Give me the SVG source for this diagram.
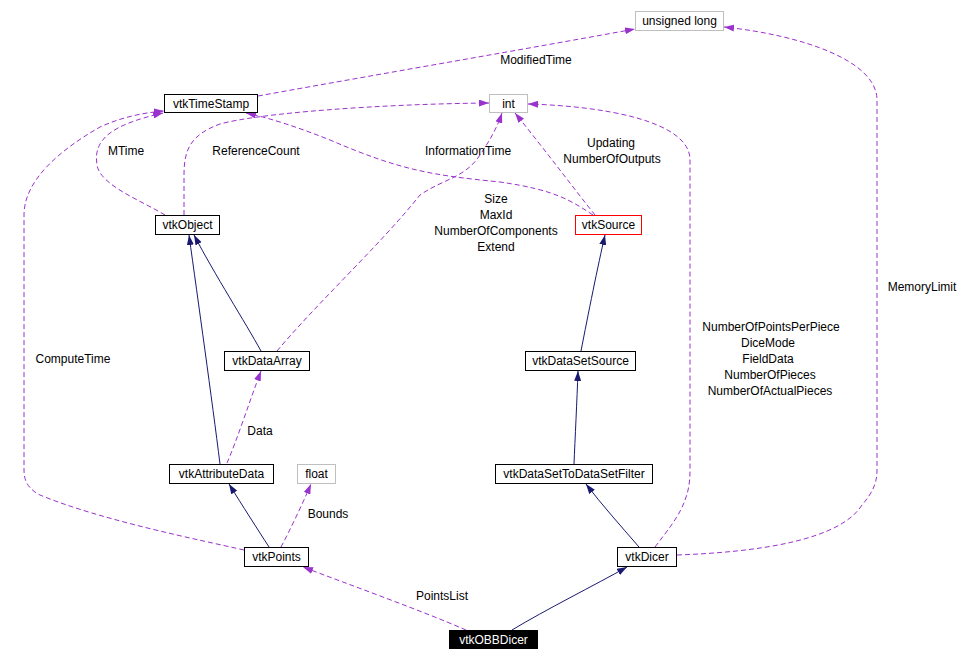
<svg xmlns="http://www.w3.org/2000/svg" width="969" height="661" viewBox="0 0 969 661">
<style>
text{font-family:"Liberation Sans",Arial,sans-serif;font-size:12px;fill:#000;text-anchor:middle}
.n{fill:#fff;stroke:#000;stroke-width:1}
.g{fill:#fff;stroke:#bfbfbf;stroke-width:1}
.r{fill:#fff;stroke:#ff0000;stroke-width:1}
.b{fill:#000;stroke:#000;stroke-width:1}
.w{fill:#fff}
.inh{fill:none;stroke:#191970;stroke-width:1;marker-end:url(#ah)}
.use{fill:none;stroke:#9a32cd;stroke-width:1;stroke-dasharray:5,3;marker-end:url(#au)}
</style>
<defs>
<marker id="ah" viewBox="0 0 10 7" refX="10" refY="3.5" markerWidth="10" markerHeight="7" markerUnits="userSpaceOnUse" orient="auto"><path d="M0,0 L10,3.5 L0,7 z" fill="#191970"/></marker>
<marker id="au" viewBox="0 0 10 7" refX="10" refY="3.5" markerWidth="10" markerHeight="7" markerUnits="userSpaceOnUse" orient="auto"><path d="M0,0 L10,3.5 L0,7 z" fill="#9a32cd"/></marker>
</defs>
<g id="edges">
<path class="inh" d="M261,351 C245,322 215,275 194,235"/>
<path class="inh" d="M220,464 C212,400 198,300 189,235"/>
<path class="inh" d="M269,547 C258,530 242,505 229,484"/>
<path class="inh" d="M581,351 C588,315 598,265 605,235"/>
<path class="inh" d="M574,464 C575,440 577,400 578,371"/>
<path class="inh" d="M639,547 C620,525 602,505 586,484"/>
<path class="inh" d="M512,630 C545,610 595,585 627,567"/>
<path class="use" d="M258,96 C380,74 520,50 635,29"/>
<path class="use" d="M677,555 C760,552 840,540 862,505 C875,490 877,480 877,470 L877,100 C877,60 800,35 724,27"/>
<path class="use" d="M655,547 C668,530 680,515 685,500 C689,490 690,480 690,470 L690,160 C690,120 600,106 528,104"/>
<path class="use" d="M595,215 C575,190 545,150 515,113"/>
<path class="use" d="M593,215 C570,200 555,190 500,182 C430,175 400,170 330,140 C300,128 270,118 246,113"/>
<path class="use" d="M277,351 C320,300 380,245 420,195 C445,178 465,178 480,155 C490,140 497,128 502,113"/>
<path class="use" d="M184,215 L184,175 C184,150 190,135 220,124 C260,113 380,104 489,103"/>
<path class="use" d="M165,215 C140,200 100,185 97,165 C93,140 110,125 163,113"/>
<path class="use" d="M244,550 C200,540 100,520 40,495 C26,488 24,478 24,470 L24,215 C24,180 60,150 100,127 C120,118 140,113 164,111"/>
<path class="use" d="M227,463 C237,440 250,400 261,371"/>
<path class="use" d="M281,547 C290,530 302,505 311,484"/>
<path class="use" d="M466,630 C420,610 350,585 303,567"/>
</g>
<g id="labels">
<text x="536" y="64">ModifiedTime</text>
<text x="126" y="155">MTime</text>
<text x="256" y="155">ReferenceCount</text>
<text x="468" y="155">InformationTime</text>
<text x="611" y="147">Updating</text>
<text x="612" y="163">NumberOfOutputs</text>
<text x="496" y="203">Size</text>
<text x="496" y="219">MaxId</text>
<text x="496" y="235">NumberOfComponents</text>
<text x="496" y="251">Extend</text>
<text x="73" y="363">ComputeTime</text>
<text x="260" y="435">Data</text>
<text x="328" y="518">Bounds</text>
<text x="442" y="600">PointsList</text>
<text x="922" y="291">MemoryLimit</text>
<text x="771" y="331">NumberOfPointsPerPiece</text>
<text x="768" y="347">DiceMode</text>
<text x="768" y="363">FieldData</text>
<text x="770" y="379">NumberOfPieces</text>
<text x="770" y="395">NumberOfActualPieces</text>
</g>
<g id="unsigned_long"><rect class="g" x="635.5" y="11.5" width="88" height="19"/><text x="679.5" y="25">unsigned long</text></g>
<g id="vtkTimeStamp"><rect class="n" x="164.5" y="94.5" width="93" height="18"/><text x="211" y="108">vtkTimeStamp</text></g>
<g id="int"><rect class="g" x="489.5" y="94.5" width="38" height="18"/><text x="508.5" y="108">int</text></g>
<g id="vtkObject"><rect class="n" x="155.5" y="215.5" width="64" height="19"/><text x="187.5" y="229">vtkObject</text></g>
<g id="vtkSource"><rect class="r" x="575.5" y="215.5" width="66" height="19"/><text x="608.5" y="229">vtkSource</text></g>
<g id="vtkDataArray"><rect class="n" x="224.5" y="351.5" width="85" height="19"/><text x="267" y="365">vtkDataArray</text></g>
<g id="vtkDataSetSource"><rect class="n" x="525.5" y="351.5" width="110" height="19"/><text x="580.5" y="365">vtkDataSetSource</text></g>
<g id="vtkAttributeData"><rect class="n" x="169.5" y="464.5" width="104" height="19"/><text x="221.5" y="478">vtkAttributeData</text></g>
<g id="float"><rect class="g" x="297.5" y="464.5" width="38" height="19"/><text x="316.5" y="478">float</text></g>
<g id="vtkDataSetToDataSetFilter"><rect class="n" x="495.5" y="464.5" width="157" height="19"/><text x="574" y="478">vtkDataSetToDataSetFilter</text></g>
<g id="vtkPoints"><rect class="n" x="244.5" y="547.5" width="64" height="19"/><text x="276.5" y="561">vtkPoints</text></g>
<g id="vtkDicer"><rect class="n" x="617.5" y="547.5" width="59" height="19"/><text x="647" y="561">vtkDicer</text></g>
<g id="vtkOBBDicer"><rect class="b" x="449.5" y="630.5" width="88" height="18"/><text class="w" x="493.5" y="644">vtkOBBDicer</text></g>
</svg>
